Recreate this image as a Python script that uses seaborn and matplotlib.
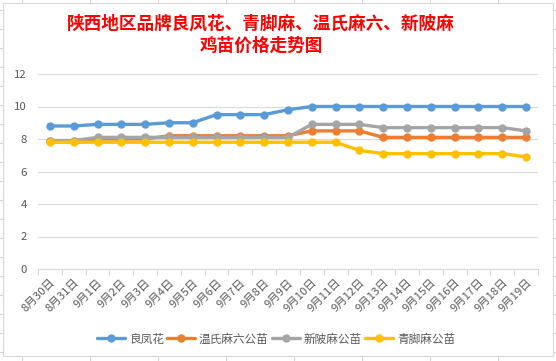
import pandas as pd
import matplotlib.pyplot as plt
import matplotlib.patches as mpatches
from matplotlib.lines import Line2D
import seaborn as sns

# chick price data
dates = ['8月30日', '8月31日', '9月1日', '9月2日', '9月3日', '9月4日', '9月5日',
         '9月6日', '9月7日', '9月8日', '9月9日', '9月10日', '9月11日', '9月12日',
         '9月13日', '9月14日', '9月15日', '9月16日', '9月17日', '9月18日', '9月19日']
liangfenghua = [8.8, 8.8, 8.9, 8.9, 8.9, 9.0, 9.0, 9.5, 9.5, 9.5, 9.8,
                10, 10, 10, 10, 10, 10, 10, 10, 10, 10]
wenshi = [7.9, 7.9, 8.0, 8.0, 8.0, 8.2, 8.2, 8.2, 8.2, 8.2, 8.2,
          8.5, 8.5, 8.5, 8.1, 8.1, 8.1, 8.1, 8.1, 8.1, 8.1]
xinbei = [7.9, 7.9, 8.1, 8.1, 8.1, 8.1, 8.1, 8.1, 8.1, 8.1, 8.1,
          8.9, 8.9, 8.9, 8.7, 8.7, 8.7, 8.7, 8.7, 8.7, 8.5]
qingjiao = [7.8, 7.8, 7.8, 7.8, 7.8, 7.8, 7.8, 7.8, 7.8, 7.8, 7.8,
            7.8, 7.8, 7.3, 7.1, 7.1, 7.1, 7.1, 7.1, 7.1, 6.9]

series = ['良凤花', '温氏麻六公苗', '新陂麻公苗', '青脚麻公苗']
colors = ['#5B9BD5', '#ED7D31', '#A5A5A5', '#FFC000']
title = '陕西地区品牌良凤花、青脚麻、温氏麻六、新陂麻\n鸡苗价格走势图'

df = pd.concat([
    pd.DataFrame({'idx': range(len(dates)), 'price': vals, 'brand': name})
    for name, vals in zip(series, [liangfenghua, wenshi, xinbei, qingjiao])
])

sns.set_theme(style='white')
plt.rcParams['font.family'] = ['Noto Sans CJK SC', 'DejaVu Sans']

fig = plt.figure(figsize=(5.56, 3.61), dpi=100)
W, H = 556, 361

# spreadsheet grid behind the chart box
grid_c = '#D4D4D4'
for x in range(22, W, 68):
    fig.add_artist(Line2D([x / W, x / W], [0, 1], color=grid_c, lw=0.8, zorder=-3))
for y in range(10, H, 19):
    fig.add_artist(Line2D([0, 1], [1 - y / H, 1 - y / H], color=grid_c, lw=0.8, zorder=-3))
fig.add_artist(mpatches.Rectangle((3 / W, 1 - 356 / H), 550 / W, 353 / H,
                                  facecolor='white', edgecolor='#D9D9D9', lw=0.8, zorder=-2))

ax = fig.add_axes([38 / W, 1 - 269 / H, 500 / W, 195 / H])
ax.set_facecolor('none')

sns.lineplot(data=df, x='idx', y='price', hue='brand', hue_order=series,
             palette=colors, marker='o', markersize=6, markeredgewidth=0,
             linewidth=2.4, legend=False, ax=ax)

ax.set_xlim(-0.5, len(dates) - 0.5)
ax.set_ylim(0, 12)
ax.set_yticks(range(0, 13, 2))
ax.yaxis.grid(True, color='#D9D9D9', lw=0.8)
ax.set_axisbelow(True)
for s in ['top', 'right', 'left']:
    ax.spines[s].set_visible(False)
ax.spines['bottom'].set_color('#D9D9D9')
ax.spines['bottom'].set_linewidth(0.8)

ax.set_xticks(range(len(dates)))
ax.set_xticklabels(dates, rotation=45, ha='right', va='top', rotation_mode='anchor')
ax.set_xticks([i - 0.5 for i in range(len(dates) + 1)], minor=True)
ax.tick_params(axis='x', which='major', length=0, pad=6, labelsize=8.2, labelcolor='#595959')
ax.tick_params(axis='x', which='minor', length=4, color='#D9D9D9', width=0.8, bottom=True)
ax.tick_params(axis='y', length=0, pad=8, labelsize=8.2, labelcolor='#595959')
ax.set_xlabel('')
ax.set_ylabel('')

fig.text(261 / W, 1 - 35 / H, title, ha='center', va='center', color='#FF0000',
         fontsize=12.7, fontweight='bold', linespacing=1.3)

handles = [Line2D([], [], color=c, lw=2.4, marker='o', markersize=6, markeredgewidth=0)
           for c in colors]
fig.legend(handles, series, loc='center', bbox_to_anchor=(276 / W, 1 - 339 / H), ncol=4,
           frameon=False, fontsize=8.4, labelcolor='#595959', handlelength=2.4,
           handletextpad=0.35, columnspacing=0.25)

fig.savefig('out.png', dpi=100)
